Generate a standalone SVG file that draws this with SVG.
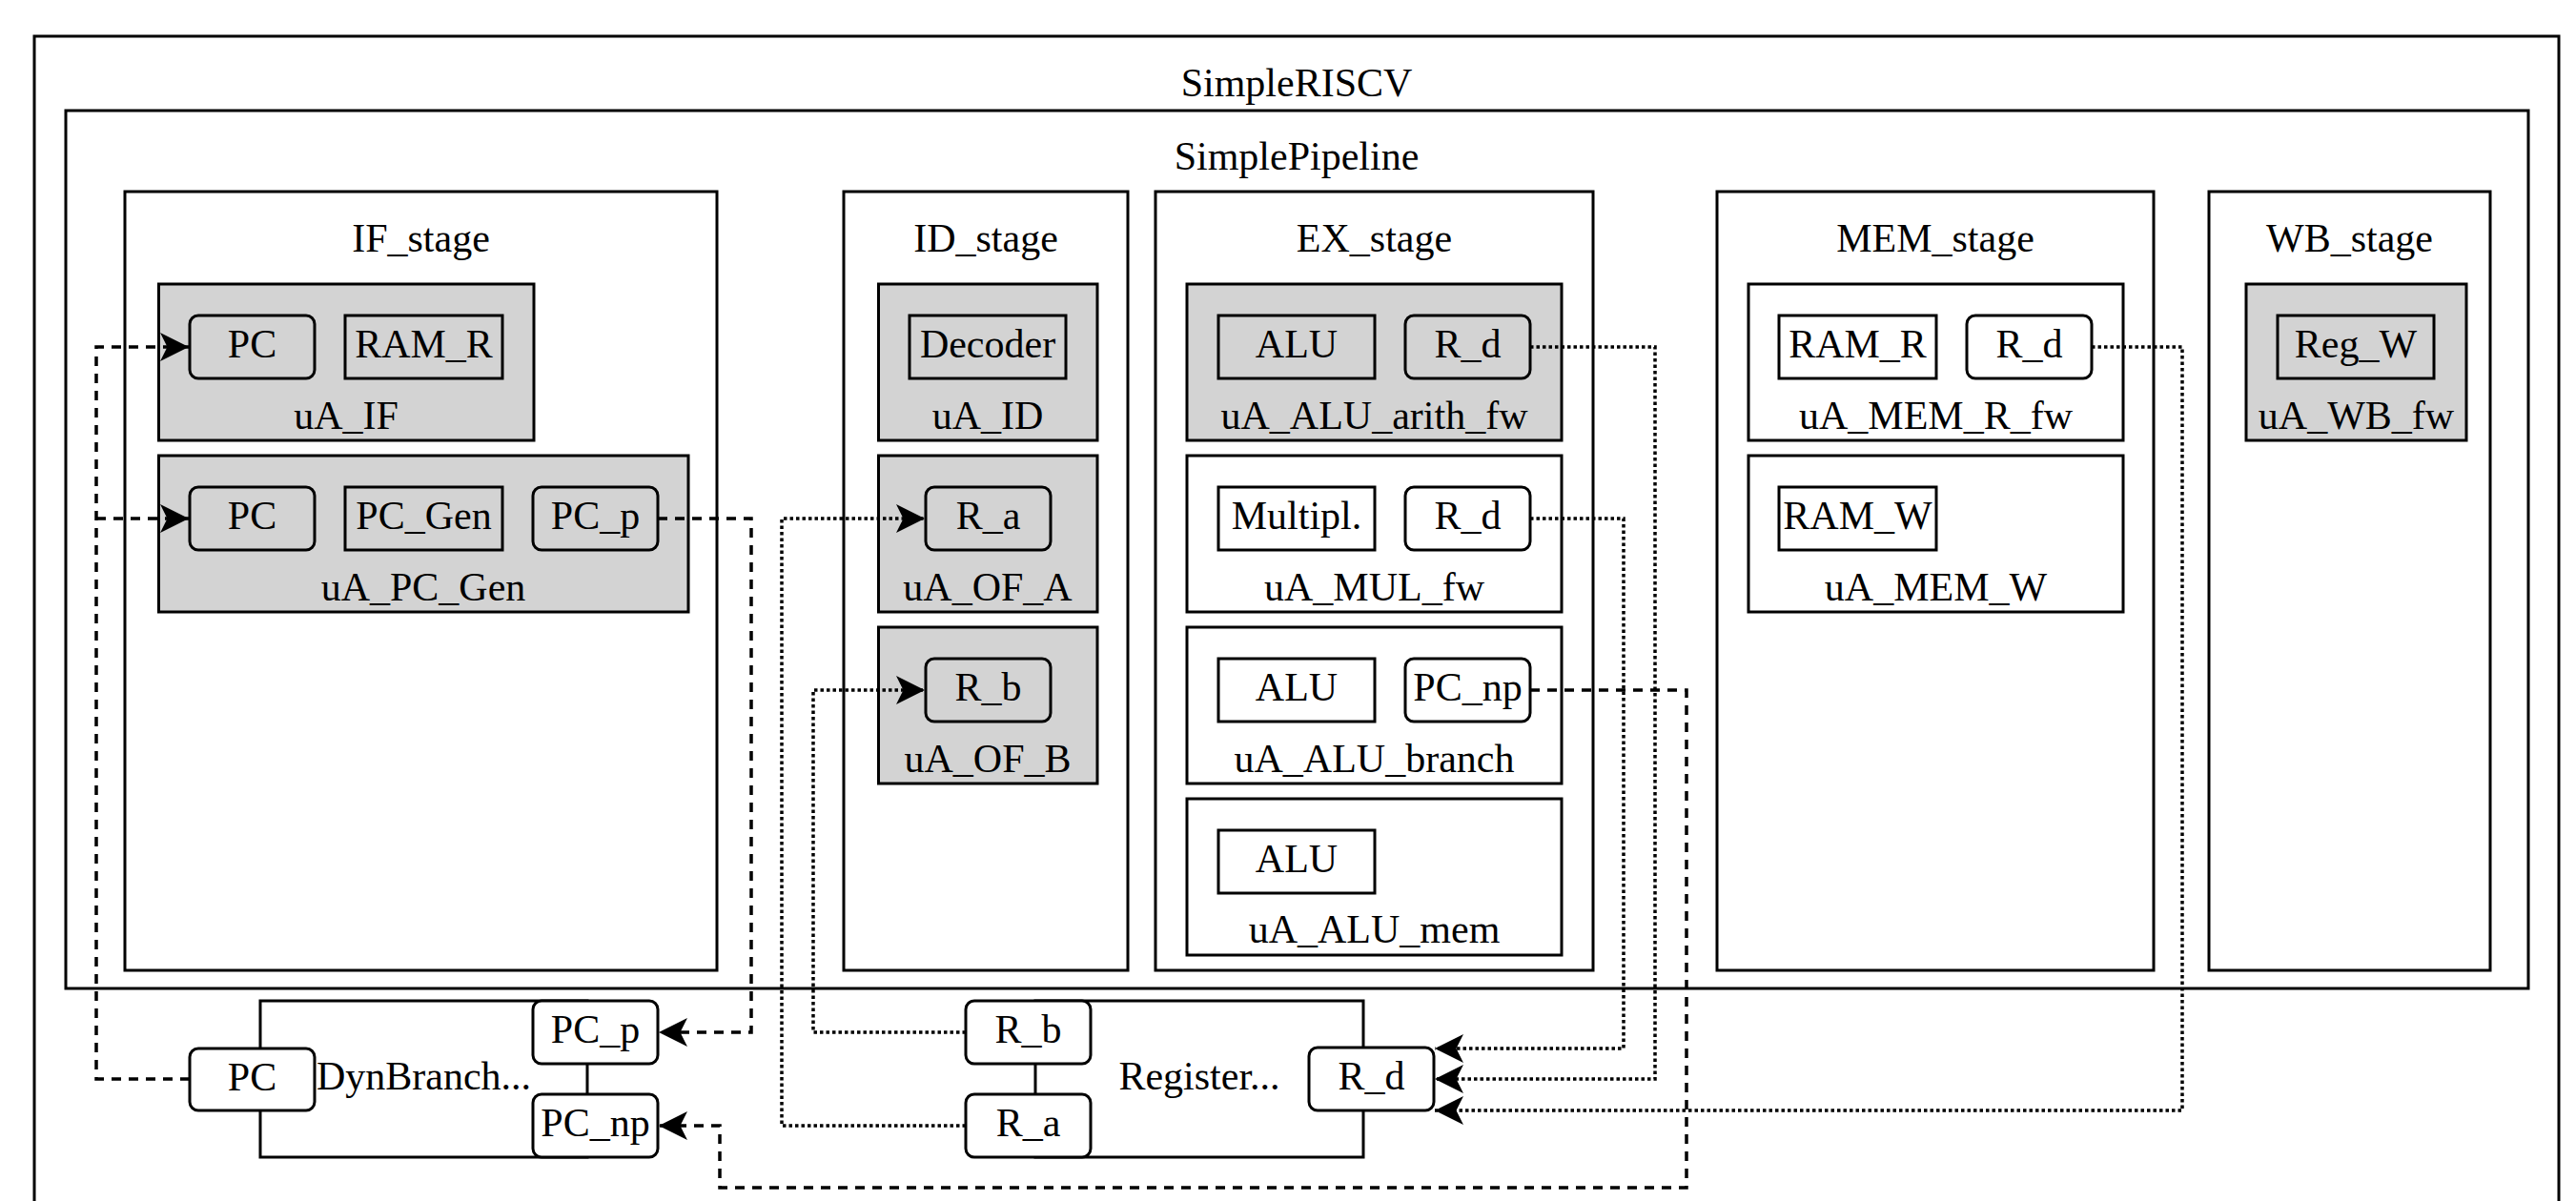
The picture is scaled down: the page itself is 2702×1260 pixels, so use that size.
<svg xmlns="http://www.w3.org/2000/svg" width="2702" height="1260" viewBox="0 0 2702 1260">
<style>
.box{fill:#fff;stroke:#000;stroke-width:3}
.gray{fill:#d3d3d3;stroke:#000;stroke-width:3}
.in{fill:none;stroke:#000;stroke-width:3}
.pw{fill:#fff;stroke:#000;stroke-width:3}
text{font-family:"Liberation Serif","Times New Roman",serif;font-size:42px;text-anchor:middle;fill:#000}
.dash{fill:none;stroke:#000;stroke-width:3.5;stroke-dasharray:10 8}
.dot{fill:none;stroke:#000;stroke-width:3.5;stroke-dasharray:3.5 3}
</style>
<defs>
<marker id="arr" markerUnits="userSpaceOnUse" markerWidth="30" markerHeight="30" viewBox="0 0 30 30" refX="30" refY="15" orient="auto">
<path d="M30,15 L0,0 L7.5,15 L0,30 Z" fill="#000" stroke="none"/>
</marker>
</defs>
<rect width="2702" height="1260" fill="#fff"/>

<g id="SimpleRISCV">
<rect class="box" x="36" y="38" width="2648" height="1300"/>
<text x="1360" y="101">SimpleRISCV</text>
</g>
<g id="SimplePipeline">
<rect class="box" x="69" y="116" width="2583" height="921"/>
<text x="1360" y="178">SimplePipeline</text>
</g>

<g id="IF_stage">
<rect class="box" x="131" y="201" width="621" height="817"/>
<text x="441.5" y="264">IF_stage</text>
</g>
<g id="uA_IF">
<rect class="gray" x="166.5" y="298" width="393.5" height="164"/>
<rect class="in" x="199" y="331" width="131" height="66" rx="9"/>
<text x="264.5" y="375">PC</text>
<rect class="in" x="362" y="331" width="165" height="66"/>
<text x="444.5" y="375">RAM_R</text>
<text x="363" y="450">uA_IF</text>
</g>
<g id="uA_PC_Gen">
<rect class="gray" x="166.5" y="478" width="555.5" height="164"/>
<rect class="in" x="199" y="511" width="131" height="66" rx="9"/>
<text x="264.5" y="555">PC</text>
<rect class="in" x="362" y="511" width="165" height="66"/>
<text x="444.5" y="555">PC_Gen</text>
<rect class="in" x="559" y="511" width="131" height="66" rx="9"/>
<text x="624.5" y="555">PC_p</text>
<text x="444" y="630">uA_PC_Gen</text>
</g>

<g id="ID_stage">
<rect class="box" x="885" y="201" width="298" height="817"/>
<text x="1034" y="264">ID_stage</text>
</g>
<g id="uA_ID">
<rect class="gray" x="921.5" y="298" width="229.5" height="164"/>
<rect class="in" x="954" y="331" width="164" height="66"/>
<text x="1036" y="375">Decoder</text>
<text x="1036" y="450">uA_ID</text>
</g>
<g id="uA_OF_A">
<rect class="gray" x="921.5" y="478" width="229.5" height="164"/>
<rect class="in" x="971" y="511" width="131" height="66" rx="9"/>
<text x="1036.5" y="555">R_a</text>
<text x="1036" y="630">uA_OF_A</text>
</g>
<g id="uA_OF_B">
<rect class="gray" x="921.5" y="658" width="229.5" height="164"/>
<rect class="in" x="971" y="691" width="131" height="66" rx="9"/>
<text x="1036.5" y="735">R_b</text>
<text x="1036" y="810">uA_OF_B</text>
</g>

<g id="EX_stage">
<rect class="box" x="1212" y="201" width="459" height="817"/>
<text x="1441.5" y="264">EX_stage</text>
</g>
<g id="uA_ALU_arith_fw">
<rect class="gray" x="1245" y="298" width="393" height="164"/>
<rect class="in" x="1278" y="331" width="164" height="66"/>
<text x="1360" y="375">ALU</text>
<rect class="in" x="1474" y="331" width="131" height="66" rx="9"/>
<text x="1539.5" y="375">R_d</text>
<text x="1441.5" y="450">uA_ALU_arith_fw</text>
</g>
<g id="uA_MUL_fw">
<rect class="box" x="1245" y="478" width="393" height="164"/>
<rect class="in" x="1278" y="511" width="164" height="66"/>
<text x="1360" y="555">Multipl.</text>
<rect class="in" x="1474" y="511" width="131" height="66" rx="9"/>
<text x="1539.5" y="555">R_d</text>
<text x="1441.5" y="630">uA_MUL_fw</text>
</g>
<g id="uA_ALU_branch">
<rect class="box" x="1245" y="658" width="393" height="164"/>
<rect class="in" x="1278" y="691" width="164" height="66"/>
<text x="1360" y="735">ALU</text>
<rect class="in" x="1474" y="691" width="131" height="66" rx="9"/>
<text x="1539.5" y="735">PC_np</text>
<text x="1441.5" y="810">uA_ALU_branch</text>
</g>
<g id="uA_ALU_mem">
<rect class="box" x="1245" y="838" width="393" height="164"/>
<rect class="in" x="1278" y="871" width="164" height="66"/>
<text x="1360" y="915">ALU</text>
<text x="1441.5" y="989">uA_ALU_mem</text>
</g>

<g id="MEM_stage">
<rect class="box" x="1801" y="201" width="458" height="817"/>
<text x="2030" y="264">MEM_stage</text>
</g>
<g id="uA_MEM_R_fw">
<rect class="box" x="1834" y="298" width="393" height="164"/>
<rect class="in" x="1866" y="331" width="165" height="66"/>
<text x="1948.5" y="375">RAM_R</text>
<rect class="in" x="2063" y="331" width="131" height="66" rx="9"/>
<text x="2128.5" y="375">R_d</text>
<text x="2030.5" y="450">uA_MEM_R_fw</text>
</g>
<g id="uA_MEM_W">
<rect class="box" x="1834" y="478" width="393" height="164"/>
<rect class="in" x="1866" y="511" width="165" height="66"/>
<text x="1948.5" y="555">RAM_W</text>
<text x="2030.5" y="630">uA_MEM_W</text>
</g>

<g id="WB_stage">
<rect class="box" x="2317" y="201" width="295" height="817"/>
<text x="2464.5" y="264">WB_stage</text>
</g>
<g id="uA_WB_fw">
<rect class="gray" x="2356" y="298" width="231" height="164"/>
<rect class="in" x="2389" y="331" width="164" height="66"/>
<text x="2471" y="375">Reg_W</text>
<text x="2471.5" y="450">uA_WB_fw</text>
</g>

<g id="DynBranch">
<rect class="box" x="273" y="1050" width="343" height="164"/>
<text x="444.5" y="1143">DynBranch...</text>
<rect class="pw" x="199" y="1100" width="131" height="65" rx="9"/>
<text x="264.5" y="1144">PC</text>
<rect class="pw" x="559" y="1050" width="131" height="66" rx="9"/>
<text x="624.5" y="1094">PC_p</text>
<rect class="pw" x="559" y="1148" width="131" height="66" rx="9"/>
<text x="624.5" y="1192">PC_np</text>
</g>

<g id="Register">
<rect class="box" x="1086" y="1050" width="344" height="164"/>
<text x="1258" y="1143">Register...</text>
<rect class="pw" x="1013" y="1050" width="131" height="66" rx="9"/>
<text x="1078.5" y="1094">R_b</text>
<rect class="pw" x="1013" y="1148" width="131" height="66" rx="9"/>
<text x="1078.5" y="1192">R_a</text>
<rect class="pw" x="1373" y="1099" width="131" height="66" rx="9"/>
<text x="1438.5" y="1143">R_d</text>
</g>

<g id="connectors">
<path class="dash" d="M199,1132 H101 V364 H198" marker-end="url(#arr)"/>
<path class="dash" d="M101,544 H198" marker-end="url(#arr)"/>
<path class="dash" d="M690,544 H788 V1083 H691" marker-end="url(#arr)"/>
<path class="dash" d="M1605,724 H1769 V1246 H755 V1181 H691" marker-end="url(#arr)"/>
<path class="dot" d="M1013,1181 H820 V544 H970" marker-end="url(#arr)"/>
<path class="dot" d="M1013,1083 H853 V724 H970" marker-end="url(#arr)"/>
<path class="dot" d="M1605,364 H1736 V1132 H1505" marker-end="url(#arr)"/>
<path class="dot" d="M1605,544 H1703 V1100 H1505" marker-end="url(#arr)"/>
<path class="dot" d="M2194,364 H2289 V1165 H1505" marker-end="url(#arr)"/>
</g>
</svg>
